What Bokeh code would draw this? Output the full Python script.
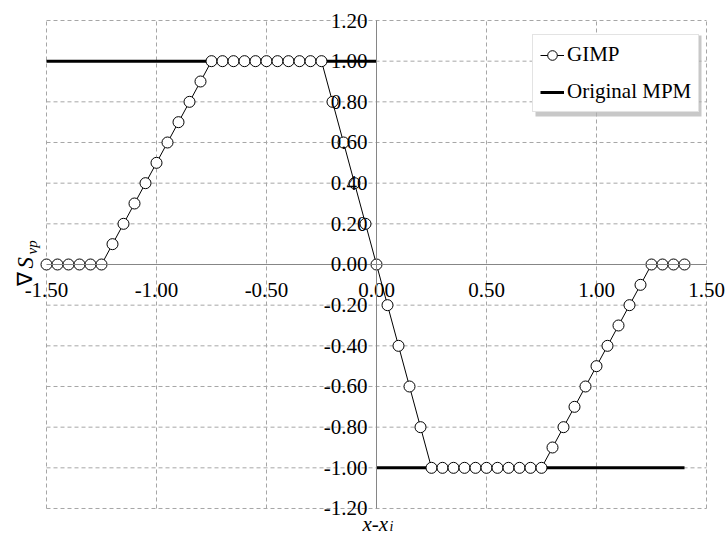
import math
from bokeh.plotting import figure
from bokeh.models import (FixedTicker, NumeralTickFormatter, Range1d, Label,
                          Legend, LegendItem, BoxAnnotation)
from bokeh.embed import file_html
from bokeh.resources import INLINE

# ---- data ----
gimp_x = [-1.50, -1.45, -1.40, -1.35, -1.30, -1.25, -1.20, -1.15, -1.10, -1.05,
          -1.00, -0.95, -0.90, -0.85, -0.80, -0.75, -0.70, -0.65, -0.60, -0.55,
          -0.50, -0.45, -0.40, -0.35, -0.30, -0.25, -0.20, -0.15, -0.10, -0.05,
          0.00, 0.05, 0.10, 0.15, 0.20, 0.25, 0.30, 0.35, 0.40, 0.45,
          0.50, 0.55, 0.60, 0.65, 0.70, 0.75, 0.80, 0.85, 0.90, 0.95,
          1.00, 1.05, 1.10, 1.15, 1.20, 1.25, 1.30, 1.35, 1.40]
gimp_y = [0.0, 0.0, 0.0, 0.0, 0.0, 0.0, 0.1, 0.2, 0.3, 0.4,
          0.5, 0.6, 0.7, 0.8, 0.9, 1.0, 1.0, 1.0, 1.0, 1.0,
          1.0, 1.0, 1.0, 1.0, 1.0, 1.0, 0.8, 0.6, 0.4, 0.2,
          0.0, -0.2, -0.4, -0.6, -0.8, -1.0, -1.0, -1.0, -1.0, -1.0,
          -1.0, -1.0, -1.0, -1.0, -1.0, -1.0, -0.9, -0.8, -0.7, -0.6,
          -0.5, -0.4, -0.3, -0.2, -0.1, 0.0, 0.0, 0.0, 0.0]
mpm_left_x = [-1.50, 0.00]
mpm_left_y = [1.0, 1.0]
mpm_right_x = [0.00, 1.40]
mpm_right_y = [-1.0, -1.0]
x_ticks = [-1.5, -1.0, -0.5, 0.0, 0.5, 1.0, 1.5]
y_ticks = [-1.2, -1.0, -0.8, -0.6, -0.4, -0.2, 0.0, 0.2, 0.4, 0.6, 0.8, 1.0, 1.2]

FONT = "Liberation Serif"
W, H = 726, 535
PX_X = 220.0      # pixels per x unit
PX_Y = 203.333    # pixels per y unit
X0 = -1.5 - 46 / PX_X          # data x at canvas left
Y1 = 1.2 + 20 / PX_Y           # data y at canvas top


def px2x(px):
    return X0 + px / PX_X


def py2y(py):
    return Y1 - py / PX_Y


p = figure(width=W, height=H, output_backend="svg", toolbar_location=None,
           x_range=Range1d(X0, X0 + W / PX_X), y_range=Range1d(Y1 - H / PX_Y, Y1),
           min_border=0)
p.outline_line_color = None
p.background_fill_color = "white"
p.xgrid.visible = False
p.ygrid.visible = False

# dashed grid inside the plot area only
xmin, xmax = x_ticks[0], x_ticks[-1]
ymin, ymax = y_ticks[0], y_ticks[-1]
p.segment(x0=x_ticks, y0=[ymin] * len(x_ticks), x1=x_ticks, y1=[ymax] * len(x_ticks),
          line_color="#a6a6a6", line_dash="4 3", line_width=1)
p.segment(x0=[xmin] * len(y_ticks), y0=y_ticks, x1=[xmax] * len(y_ticks), y1=y_ticks,
          line_color="#a6a6a6", line_dash="4 3", line_width=1)

# axes crossing at zero
for ax in (p.xaxis[0], p.yaxis[0]):
    ax.fixed_location = 0
    ax.axis_line_color = "#868686"
    ax.axis_line_width = 1
    ax.major_tick_out = 0
    ax.major_tick_in = 0
    ax.minor_tick_out = 0
    ax.minor_tick_in = 0
    ax.major_label_text_font = FONT
    ax.major_label_text_font_size = "21px"
    ax.major_label_text_color = "black"
    ax.formatter = NumeralTickFormatter(format="0.00")
p.xaxis[0].ticker = FixedTicker(ticks=x_ticks)
p.yaxis[0].ticker = FixedTicker(ticks=y_ticks)
p.xaxis[0].bounds = (xmin, xmax)
p.yaxis[0].bounds = (ymin, ymax)
p.xaxis[0].major_label_standoff = 19
p.yaxis[0].major_label_standoff = 9

# series
mpm1 = p.line(mpm_left_x, mpm_left_y, line_color="black", line_width=3)
mpm2 = p.line(mpm_right_x, mpm_right_y, line_color="black", line_width=3)
gl = p.line(gimp_x, gimp_y, line_color="black", line_width=1)
gs = p.scatter(gimp_x, gimp_y, marker="circle", size=11, fill_color="white",
               line_color="black", line_width=1)

# legend shadow
shadow = BoxAnnotation(left=px2x(535), right=px2x(701), top=py2y(35), bottom=py2y(116),
                       fill_color="#b0b0b0", fill_alpha=0.7, line_color=None)
p.add_layout(shadow)

legend = Legend(items=[LegendItem(label="GIMP", renderers=[gl, gs]),
                       LegendItem(label="Original MPM", renderers=[mpm1])],
                location=(532, H - 112), orientation="vertical")
legend.label_text_font = FONT
legend.label_text_font_size = "21px"
legend.label_text_color = "black"
legend.glyph_width = 24
legend.glyph_height = 24
legend.label_standoff = 3
legend.padding = 7
legend.spacing = 12
legend.margin = 0
legend.border_line_color = "#c8c8c8"
legend.border_line_width = 1
legend.background_fill_color = "white"
legend.background_fill_alpha = 1.0
p.add_layout(legend, "center")

# y-axis title (rotated): nabla, italic S, subscript vp
ang = math.pi / 2
p.add_layout(Label(x=px2x(24), y=py2y(285), text="\u2207", angle=ang,
                   text_font=FONT, text_font_size="21px", text_color="black",
                   text_baseline="alphabetic", text_align="left"))
p.add_layout(Label(x=px2x(25), y=py2y(268), text="S", angle=ang,
                   text_font=FONT, text_font_style="italic", text_font_size="23px",
                   text_color="black", text_baseline="alphabetic", text_align="left"))
p.add_layout(Label(x=px2x(31), y=py2y(254), text="vp", angle=ang,
                   text_font=FONT, text_font_style="italic", text_font_size="15px",
                   text_color="black", text_baseline="alphabetic", text_align="left"))

# x-axis title: italic x-x with subscript i
p.add_layout(Label(x=px2x(362), y=py2y(523), text="x-x",
                   text_font=FONT, text_font_style="italic", text_font_size="21px",
                   text_color="black", text_baseline="alphabetic", text_align="left"))
p.add_layout(Label(x=px2x(389), y=py2y(526), text="i",
                   text_font=FONT, text_font_style="italic", text_font_size="14px",
                   text_color="black", text_baseline="alphabetic", text_align="left"))

open("out.html", "w").write(file_html(p, INLINE))
